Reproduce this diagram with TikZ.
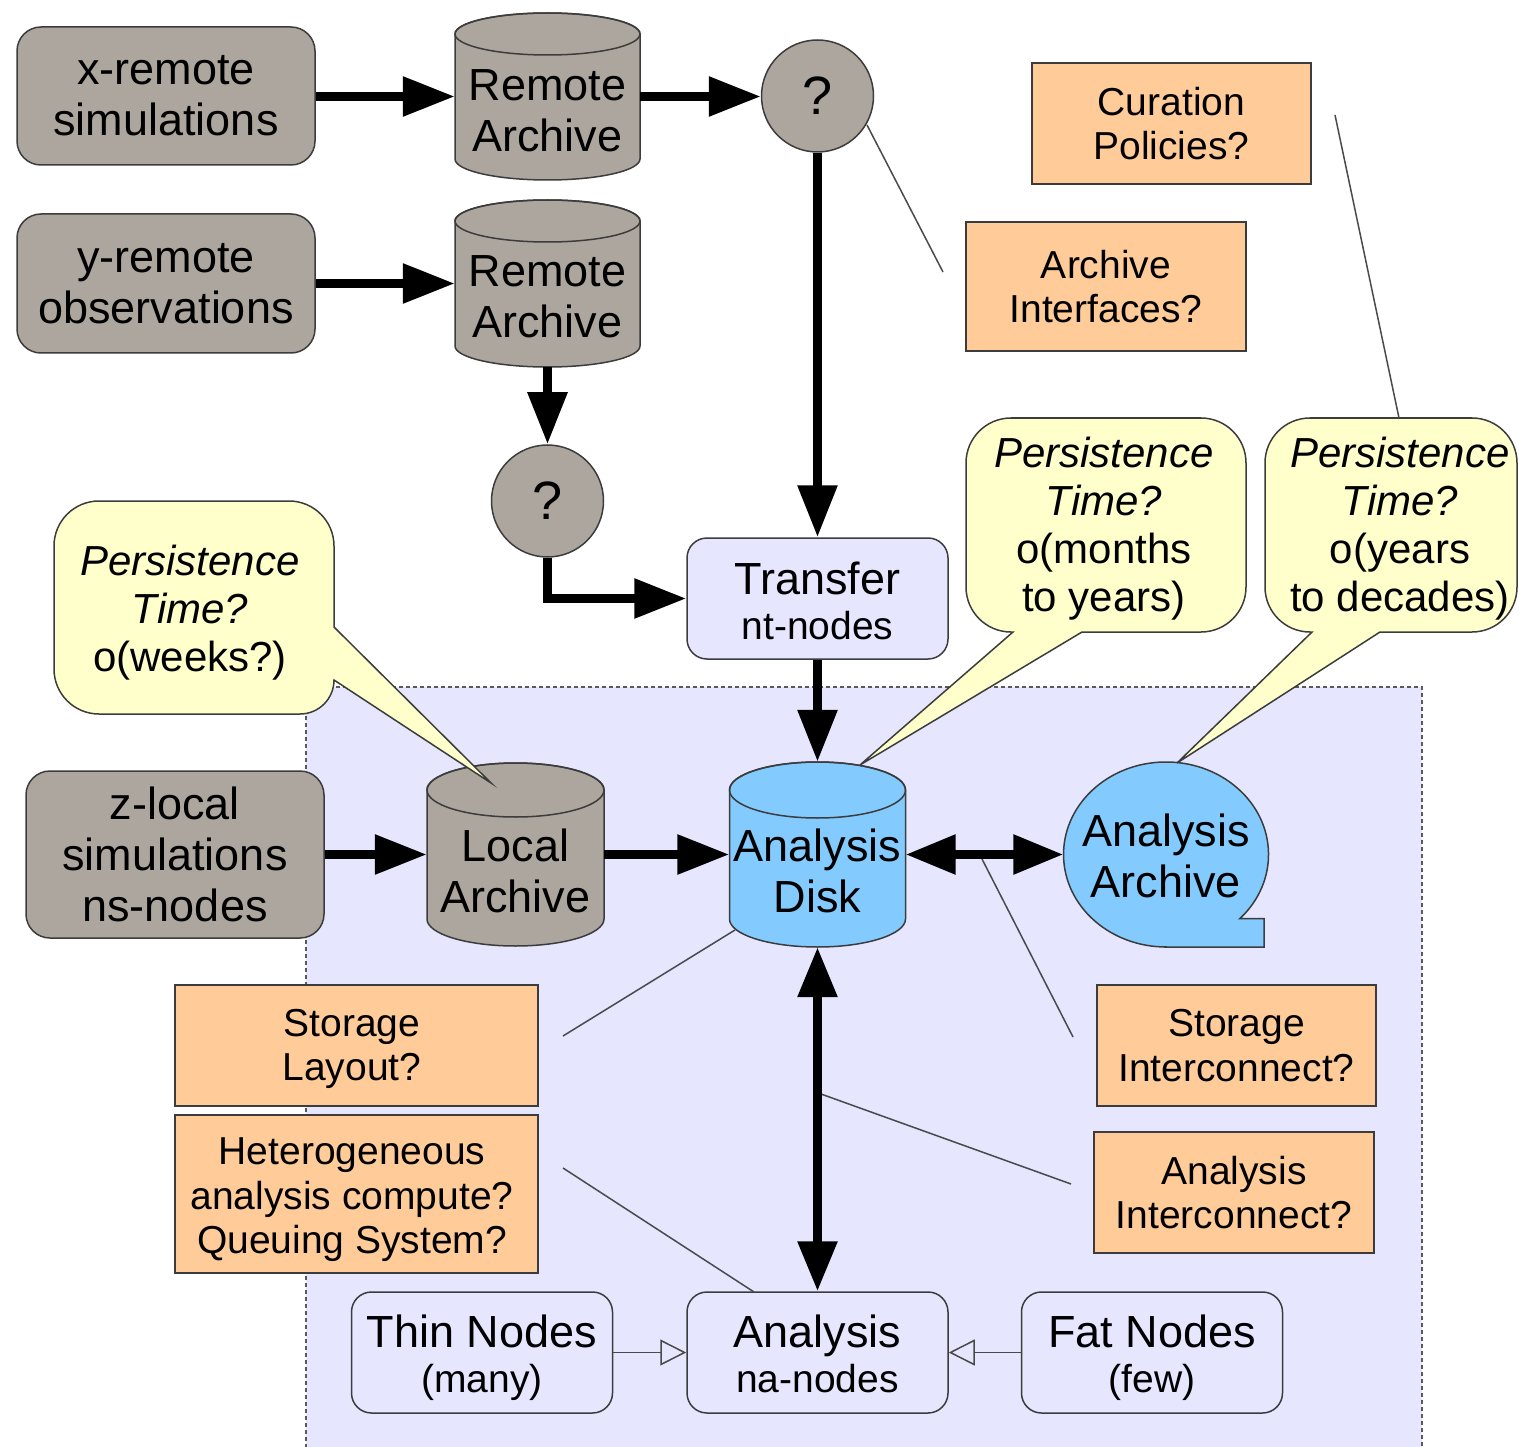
\documentclass[tikz,border=0pt]{standalone}
\usepackage{fontspec}
\setmainfont{Liberation Sans}
\usetikzlibrary{arrows.meta,shapes.geometric}
\definecolor{graycol}{HTML}{ADA69F}
\definecolor{bordercol}{HTML}{3C3C3C}
\definecolor{linecol}{HTML}{4A4A4A}
\definecolor{orangecol}{HTML}{FFCC99}
\definecolor{yellowcol}{HTML}{FFFFCC}
\definecolor{lavcol}{HTML}{E6E6FF}
\definecolor{bluecol}{HTML}{83CAFF}
\newcommand\FBig{\fontsize{45}{51}\selectfont}
\newcommand\FMed{\fontsize{39}{44.5}\selectfont}
\newcommand\FCall{\fontsize{42}{48}\selectfont}
\newcommand\FQ{\fontsize{54}{60}\selectfont}
% cylinder: cx cy halfwidth halfheight ellipse-ry fill
\newcommand\drawcyl[6]{%
  \filldraw[fill=#6, draw=bordercol, line width=1.5pt]
    ({#1-#3},{#2-#4+#5}) -- ({#1-#3},{#2+#4-#5})
    arc[start angle=180, end angle=360, x radius=#3pt, y radius=#5pt]
    -- ({#1+#3},{#2-#4+#5})
    arc[start angle=0, end angle=180, x radius=#3pt, y radius=#5pt] -- cycle;
  \draw[draw=bordercol, line width=1.5pt] (#1,{#2-#4+#5}) ellipse[x radius=#3pt, y radius=#5pt];}
\begin{document}
\begin{tikzpicture}[x=1pt,y=-1pt,
  graybox/.style={draw=bordercol, fill=graycol, line width=1.5pt, rounded corners=24pt, inner sep=0pt, align=center, font=\FBig},
  lavbox/.style={draw=bordercol, fill=lavcol, line width=1.5pt, rounded corners=20pt, inner sep=0pt, minimum width=261pt, minimum height=121pt},
  lavtext/.style={align=center, inner sep=0pt, font=\fontsize{45}{45}\selectfont},
  obox/.style={draw=bordercol, fill=orangecol, line width=1.2pt, inner sep=0pt, align=center, font=\FMed},
  otext/.style={align=center, inner sep=0pt, font=\FMed},
  anchorbox/.style={draw=none, inner sep=0pt},
  cyltext/.style={align=center, font=\FBig, inner sep=0pt},
  calltext/.style={align=center, font=\FCall, inner sep=0pt},
  qcirc/.style={circle, draw=bordercol, fill=graycol, line width=1.5pt, minimum size=112pt, inner sep=0pt, font=\FQ},
  callout/.style={fill=yellowcol, draw=bordercol, line width=1.5pt, line join=miter},
  bigarrow/.style={line width=9pt, -{Triangle[length=52pt,width=38pt]}},
  dblarrow/.style={line width=9pt, {Triangle[length=50pt,width=38pt]}-{Triangle[length=50pt,width=38pt]}},
  openarrow/.style={draw=linecol, line width=1.5pt, -{Triangle[open,length=26pt,width=26pt]}},
  note/.style={draw=linecol, line width=1.5pt}]
\useasboundingbox (0,0) rectangle (1519,1447);

% background region
\node[fill=lavcol, draw=bordercol!85, line width=1.5pt, dash pattern=on 4pt off 3pt, minimum width=1116pt, minimum height=770pt, inner sep=0pt] (region) at (864,1072) {};

% gray sources
\node[graybox, minimum width=298pt, minimum height=138pt] (xr) at (166,96) {x-remote\\simulations};
\node[graybox, minimum width=298pt, minimum height=139pt] (yr) at (166,283.5) {y-remote\\observations};
\node[graybox, minimum width=298pt, minimum height=167pt] (zl) at (175,854.5) {z-local\\simulations\\ns-nodes};

% cylinders
\drawcyl{547.5}{96.5}{92.5}{83.5}{21}{graycol}
\node[anchorbox, minimum width=185pt, minimum height=167pt] (ra1) at (547.5,96.5) {};
\node[cyltext] (ra1t) at (547.5,110.5) {Remote\\Archive};
\drawcyl{547.5}{283.5}{92.5}{83.5}{21}{graycol}
\node[anchorbox, minimum width=185pt, minimum height=167pt] (ra2) at (547.5,283.5) {};
\node[cyltext] (ra2t) at (547.5,296.5) {Remote\\Archive};
\drawcyl{515.5}{854.5}{88.5}{91.5}{27}{graycol}
\node[anchorbox, minimum width=177pt, minimum height=183pt] (la) at (515.5,854.5) {};
\node[cyltext] (lat) at (515.5,870.5) {Local\\Archive};
\drawcyl{817.5}{854.5}{88}{92.5}{28}{bluecol}
\node[anchorbox, minimum width=176pt, minimum height=185pt] (ad) at (817.5,854.5) {};
\node[cyltext] (adt) at (817.5,870.5) {Analysis\\Disk};

% analysis archive (sequential storage)
\filldraw[fill=bluecol, draw=bordercol, line width=1.5pt] (1166,947) -- (1264,947) -- (1264,918.5)
  -- (1240,918.5) arc[start angle=-43.8, end angle=270, x radius=102.5pt, y radius=92.5pt] -- cycle;
\node[ellipse, anchorbox, minimum width=205pt, minimum height=185pt] (aa) at (1166,854.5) {};
\node[cyltext] (aat) at (1166,855.5) {Analysis\\Archive};

% question circles
\node[qcirc] (q1) at (817.5,96) {?};
\node[qcirc] (q2) at (547.5,501) {?};

% lavender boxes
\node[lavbox] (tr) at (817.5,598.5) {};
\node[lavtext] (trt) at (817.5,600.5) {Transfer\\{\FMed nt-nodes}};
\node[lavbox] (thin) at (482,1352.5) {};
\node[lavtext] (thint) at (482,1357.5) {Thin Nodes\\{\FMed (many)}};
\node[lavbox] (ana) at (817.5,1352.5) {};
\node[lavtext] (anat) at (817.5,1353.5) {Analysis\\{\FMed na-nodes}};
\node[lavbox] (fat) at (1152,1352.5) {};
\node[lavtext] (fatt) at (1152,1357.5) {Fat Nodes\\{\FMed (few)}};

% orange question boxes
\node[obox, minimum width=279pt, minimum height=121pt] (cur) at (1171.5,123.5) {Curation\\Policies?};
\node[obox, minimum width=280pt, minimum height=129pt] (aif) at (1106,286.5) {Archive\\Interfaces?};
\node[obox, minimum width=363pt, minimum height=121pt] (sl) at (356.5,1045.5) {};
\node[otext] (slt) at (352,1049) {Storage\\Layout?};
\node[obox, minimum width=363pt, minimum height=158pt] (het) at (356.5,1194) {};
\node[otext] (hett) at (352,1200) {Heterogeneous\\analysis compute?\\Queuing System?};
\node[obox, minimum width=279pt, minimum height=121pt] (si) at (1236.5,1045.5) {Storage\\Interconnect?};
\node[obox, minimum width=280pt, minimum height=121pt] (ai) at (1234,1192.5) {Analysis\\Interconnect?};

% callouts
\filldraw[callout] (1082,632) -- (1201,632) arc[start angle=270,end angle=360,radius=45pt]
  -- (1246,463) arc[start angle=0,end angle=90,radius=45pt]
  -- (1011,418) arc[start angle=90,end angle=180,radius=45pt]
  -- (966,587) arc[start angle=180,end angle=270,radius=45pt]
  -- (1013,632) -- (860,765) -- cycle;
\filldraw[callout] (1380,632) -- (1472,632) arc[start angle=270,end angle=360,radius=45pt]
  -- (1517,463) arc[start angle=0,end angle=90,radius=45pt]
  -- (1310,418) arc[start angle=90,end angle=180,radius=45pt]
  -- (1265,587) arc[start angle=180,end angle=270,radius=45pt]
  -- (1312,632) -- (1177,763) -- cycle;
\filldraw[callout] (334,627) -- (334,546) arc[start angle=0,end angle=90,radius=45pt]
  -- (99,501) arc[start angle=90,end angle=180,radius=45pt]
  -- (54,669) arc[start angle=180,end angle=270,radius=45pt]
  -- (300,714) arc[start angle=270,end angle=360,radius=34pt]
  -- (491,783) -- cycle;
\node[calltext] (c1t) at (1104,529) {\textit{Persistence}\\\textit{Time?}\\o(months\\to years)};
\node[calltext] (c2t) at (1400,529) {\textit{Persistence}\\\textit{Time?}\\o(years\\to decades)};
\node[calltext] (c3t) at (190,613) {\textit{Persistence}\\\textit{Time?}\\o(weeks?)};

% thin annotation lines
\coordinate (n1a) at (867,125);  \coordinate (n1b) at (943,272);
\coordinate (n2a) at (1335,115); \coordinate (n2b) at (1399,418);
\coordinate (n3a) at (982,859);  \coordinate (n3b) at (1073,1037);
\coordinate (n4a) at (821,1094); \coordinate (n4b) at (1071,1184);
\coordinate (n5a) at (563,1036); \coordinate (n5b) at (735,930);
\coordinate (n6a) at (563,1168); \coordinate (n6b) at (754,1292);
\draw[note] (n1a) -- (n1b);
\draw[note] (n2a) -- (n2b);
\draw[note] (n3a) -- (n3b);
\draw[note] (n4a) -- (n4b);
\draw[note] (n5a) -- (n5b);
\draw[note] (n6a) -- (n6b);

% thick flow arrows
\draw[bigarrow] (xr.east |- ra1.west) -- (ra1.west);
\draw[bigarrow] (ra1.east) -- (q1.west |- ra1.east);
\draw[bigarrow] (yr.east |- ra2.west) -- (ra2.west);
\draw[bigarrow] (ra2.south) -- (q2.north);
\draw[bigarrow] (q2.south) |- (tr.west);
\draw[bigarrow] (q1.south) -- (tr.north);
\draw[bigarrow] (tr.south) -- (ad.north);
\draw[bigarrow] (zl.east) -- (la.west);
\draw[bigarrow] (la.east) -- (ad.west);
\draw[dblarrow] (ad.east) -- (aa.west);
\draw[dblarrow] (ad.south) -- (ana.north);
\draw[openarrow] (thin.east) -- (ana.west);
\draw[openarrow] (fat.west) -- (ana.east);
\end{tikzpicture}
\end{document}
